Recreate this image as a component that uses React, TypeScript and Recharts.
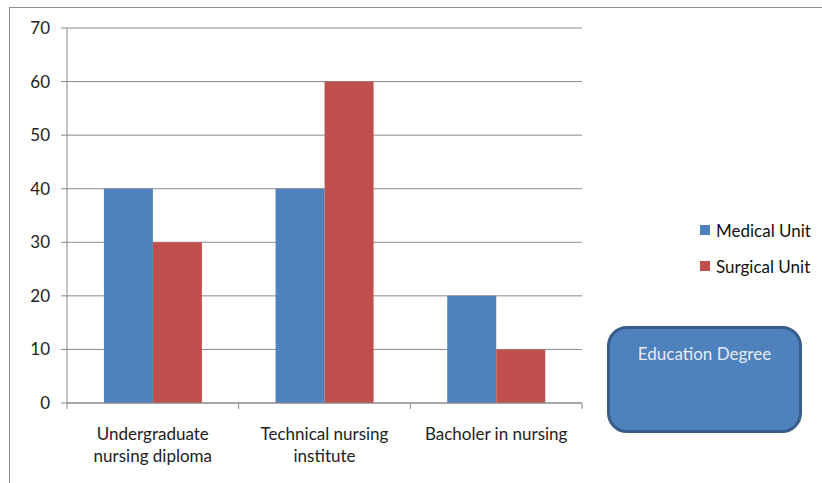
import React from "react";
import { BarChart, Bar, XAxis, YAxis, CartesianGrid } from "recharts";

const categories = ["Undergraduate nursing diploma", "Technical nursing institute", "Bacholer in nursing"];
const categoryLabelLines = [["Undergraduate", "nursing diploma"], ["Technical nursing", "institute"], ["Bacholer in nursing"]];
const medicalUnit = [40, 40, 20];
const surgicalUnit = [30, 60, 10];
const yTicks = [0, 10, 20, 30, 40, 50, 60, 70];
const seriesNames = ["Medical Unit", "Surgical Unit"];
const boxLabel = "Education Degree";

const data = categories.map((c, i) => ({ name: c, medical: medicalUnit[i], surgical: surgicalUnit[i] }));

const FONT = "Lato, 'Open Sans', sans-serif";
const FS = 17;
const BLUE = "#4F81BD";
const RED = "#C0504D";
const GRID = "#8a8a8a";

const XTick = (props: any) => {
  const { x, y, payload, index } = props;
  const half = payload && payload.offset ? payload.offset : 0;
  const lines = categoryLabelLines[index] || [String(payload.value)];
  return (
    <g>
      <line x1={x - half} x2={x - half} y1={y} y2={y + 6} stroke={GRID} strokeWidth={1} />
      {index === categories.length - 1 && (
        <line x1={x + half} x2={x + half} y1={y} y2={y + 6} stroke={GRID} strokeWidth={1} />
      )}
      {lines.map((l: string, i: number) => (
        <text key={i} x={x} y={y + 37 + i * 22} textAnchor="middle" fill="#222" fontSize={FS} fontFamily={FONT}>
          {l}
        </text>
      ))}
    </g>
  );
};

export default function App() {
  return (
    <div style={{ position: "fixed", left: 0, top: 0, width: 822, height: 483, background: "#fff", overflow: "hidden" }}>
      <div style={{ position: "absolute", left: 9, top: 7, right: -2, bottom: -2, borderTop: "1.5px solid #8c8c8c", borderLeft: "1.5px solid #8c8c8c" }} />
      <BarChart
        width={822}
        height={483}
        data={data}
        margin={{ top: 28, right: 240, bottom: 10, left: 0 }}
        barCategoryGap="21.5%"
        barGap={0}
        style={{ position: "absolute", left: 0, top: 0 }}
      >
        <CartesianGrid vertical={false} stroke={GRID} strokeWidth={1} />
        <XAxis
          dataKey="name"
          height={70}
          tickSize={0}
          tickMargin={0}
          tickLine={false}
          axisLine={{ stroke: GRID }}
          interval={0}
          tick={<XTick />}
        />
        <YAxis
          width={67}
          domain={[0, 70]}
          ticks={yTicks}
          tickSize={6}
          tickMargin={11}
          tickLine={{ stroke: GRID }}
          axisLine={{ stroke: GRID }}
          tick={{ fill: "#222", fontSize: FS, fontFamily: FONT }}
          interval={0}
        />
        <Bar dataKey="medical" name={seriesNames[0]} fill={BLUE} isAnimationActive={false} />
        <Bar dataKey="surgical" name={seriesNames[1]} fill={RED} isAnimationActive={false} />
      </BarChart>
      <div style={{ position: "absolute", left: 700, top: 219, fontFamily: FONT, fontSize: FS, color: "#111" }}>
        {seriesNames.map((n, i) => (
          <div key={n} style={{ display: "flex", alignItems: "center", height: 22, marginBottom: i === 0 ? 14 : 0 }}>
            <span style={{ display: "inline-block", width: 10, height: 10, background: i === 0 ? BLUE : RED, marginRight: 6 }} />
            <span>{n}</span>
          </div>
        ))}
      </div>
      <div
        style={{
          position: "absolute",
          left: 607,
          top: 326,
          width: 195,
          height: 107,
          boxSizing: "border-box",
          background: BLUE,
          border: "3px solid #385D8A",
          borderRadius: 20,
          color: "#e4ecf5",
          fontFamily: FONT,
          fontSize: FS,
          textAlign: "center",
          paddingTop: 14,
        }}
      >
        {boxLabel}
      </div>
    </div>
  );
}
